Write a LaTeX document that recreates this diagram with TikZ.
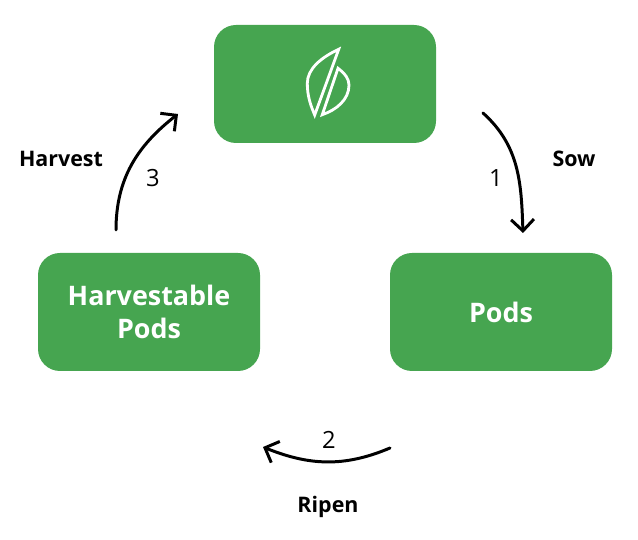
\documentclass[tikz,border=0pt]{standalone}
\usepackage{fontspec}
\setmainfont{Open Sans}
\usepackage{xcolor}
\usetikzlibrary{arrows.meta}
\definecolor{leafgreen}{HTML}{46A550}
\tikzstyle{arrow} = [-{Straight Barb[length=6.5pt,width=13pt,line width=1.7pt]},line width=1.7pt,line cap=round,black]
\tikzstyle{box} = [fill=leafgreen,rounded corners=0.44cm,minimum width=4.44cm,minimum height=2.36cm,align=center,text=white,font=\fontsize{15.3}{18.7}\selectfont\bfseries]
\tikzstyle{step label} = [font=\fontsize{12.2}{14}\selectfont\bfseries]
\tikzstyle{number} = [font=\fontsize{13.5}{16}\selectfont]
\tikzstyle{leaf} = [draw=white,line width=1.6pt,line join=miter]

\begin{document}
\begin{tikzpicture}
        \useasboundingbox (0, 0) rectangle (12.76, 10.8);
        \node[box] at (6.5, 9.12) (farm) {};
        \node[box] at (10.02, 4.56) (pods) {Pods};
        \node[box] at (2.98, 4.56) (harvestable) {Harvestable\\Pods};

        % leaf logo
        \draw[leaf] (6.774, 9.814) .. controls (6.42, 9.65) and (6.146, 9.42) .. (6.146, 9.134)
            .. controls (6.146, 8.88) and (6.21, 8.7) .. (6.294, 8.5) -- cycle;
        \draw[leaf] (6.76, 9.434) .. controls (6.9, 9.33) and (6.98, 9.22) .. (6.98, 9.1)
            .. controls (6.98, 8.8) and (6.72, 8.6) .. (6.446, 8.506) -- cycle;

        \coordinate (sow start) at (9.66, 8.54);
        \coordinate (sow end) at (10.46, 6.14);
        \coordinate (ripen start) at (7.8, 1.84);
        \coordinate (ripen end) at (5.26, 1.86);
        \coordinate (harvest start) at (2.32, 6.2);
        \coordinate (harvest end) at (3.56, 8.52);

        \draw[arrow] (sow start) to [out=-42, in=92] (sow end);
        \draw[arrow] (ripen start) to [out=203, in=-22] (ripen end);
        \draw[arrow] (harvest start) to [out=90, in=218] (harvest end);

        \node[number] at (9.92, 7.24) (one) {1};
        \node[number] at (6.58, 2.0) (two) {2};
        \node[number] at (3.06, 7.24) (three) {3};
        \node[step label] at (11.48, 7.62) (sow) {Sow};
        \node[step label] at (6.56, 0.66) (ripen) {Ripen};
        \node[step label] at (1.22, 7.62) (harvest) {Harvest};
    \end{tikzpicture}
\end{document}
